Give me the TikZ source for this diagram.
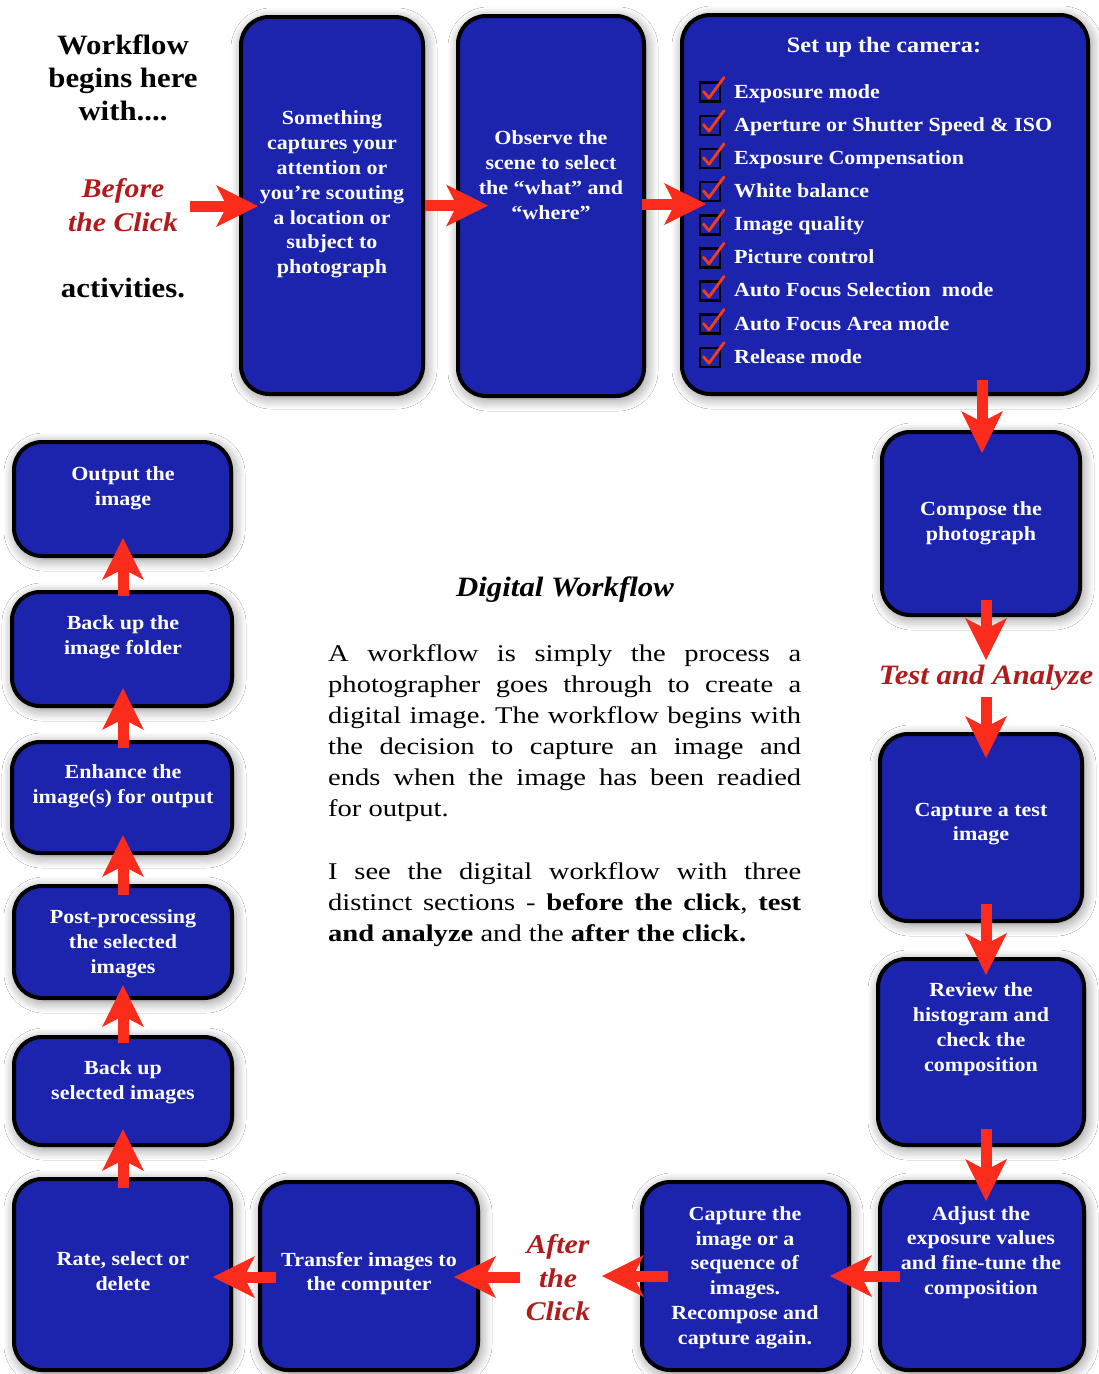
\documentclass[tikz,border=0pt]{standalone}
\usepackage{fontspec}
\setmainfont{Liberation Serif}[FakeStretch=1.1]
\newfontfamily\bodyfont{Liberation Serif}[FakeStretch=1.19]
\usetikzlibrary{arrows.meta,shadows.blur,calc}
\definecolor{boxblue}{RGB}{28,36,174}
\definecolor{arrred}{RGB}{252,44,28}
\definecolor{txtred}{RGB}{176,28,28}
\definecolor{chkred}{RGB}{245,62,20}
\tikzset{
  box/.style={draw=black, line width=4pt, fill=boxblue, rounded corners=28pt, inner sep=0pt,
    blur shadow={shadow xshift=2pt, shadow yshift=-3pt, shadow blur radius=12pt, shadow blur steps=10, shadow opacity=50}},
  btxt/.style={text=white, align=center, inner sep=0pt, font=\bfseries\fontsize{20}{24.8}\selectfont},
  itemtxt/.style={text=white, inner sep=0pt, font=\bfseries\fontsize{20}{24}\selectfont},
  bigarrow/.style={draw=arrred, line width=11pt, -{Stealth[length=42pt,width=42pt,inset=11pt,line width=0pt]}},
  chkbox/.style={draw=black, line width=2.6pt},
  chkmark/.style={draw=chkred, line width=2.8pt, line cap=round, line join=round},
  headtxt/.style={align=center, inner sep=0pt, font=\bfseries\fontsize{28}{33}\selectfont},
  redtxt/.style={align=center, inner sep=0pt, text=txtred, font=\bfseries\itshape\fontsize{27}{33.5}\selectfont}
}
\begin{document}
\frenchspacing
\begin{tikzpicture}[x=1pt,y=-1pt]
\useasboundingbox (0,0) rectangle (1099,1374);
\fill[white] (0,0) rectangle (1099,1374);

% boxes
\node[box, minimum width=182pt, minimum height=377pt] (b1) at (332,205.5) {};
\node[box, minimum width=186pt, minimum height=380pt] (b2) at (551,206) {};
\node[box, minimum width=406pt, minimum height=379pt] (b3) at (885,204.5) {};
\node[box, minimum width=198pt, minimum height=183pt] (b4) at (981,523.5) {};
\node[box, minimum width=202pt, minimum height=187pt] (b5) at (981,827.5) {};
\node[box, minimum width=206pt, minimum height=186pt] (b6) at (981,1052) {};
\node[box, minimum width=204pt, minimum height=188pt] (b7) at (982,1276) {};
\node[box, minimum width=207pt, minimum height=188pt] (b8) at (745.5,1276) {};
\node[box, minimum width=218pt, minimum height=188pt] (b9) at (369,1276) {};
\node[box, minimum width=217pt, minimum height=191pt] (b10) at (122.5,1274.5) {};
\node[box, minimum width=218pt, minimum height=108pt] (b11) at (123,1091) {};
\node[box, minimum width=218pt, minimum height=112pt] (b12) at (123,942) {};
\node[box, minimum width=220pt, minimum height=111pt] (b13) at (122,797.5) {};
\node[box, minimum width=220pt, minimum height=114pt] (b14) at (122,649) {};
\node[box, minimum width=217pt, minimum height=114pt] (b15) at (122.5,499) {};

% box texts
\node[btxt] (t1) at (332,194.5) {Something\\captures your\\attention or\\you’re scouting\\a location or\\subject to\\photograph};
\node[btxt] (t2) at (551,175) {Observe the\\scene to select\\the “what” and\\“where”};
\node[btxt, font=\bfseries\fontsize{22}{26}\selectfont] (t3) at (884,47) {Set up the camera:};
\node[btxt] (t4) at (981,523.5) {Compose the\\photograph};
\node[btxt] (t5) at (981,824) {Capture a test\\image};
\node[btxt] (t6) at (981,1029) {Review the\\histogram and\\check the\\composition};
\node[btxt] (t7) at (981,1252.5) {Adjust the\\exposure values\\and fine-tune the\\composition};
\node[btxt] (t8) at (745,1277.5) {Capture the\\image or a\\sequence of\\images.\\Recompose and\\capture again.};
\node[btxt] (t9) at (369,1273.5) {Transfer images to\\the computer};
\node[btxt] (t10) at (123,1271.5) {Rate, select or\\delete};
\node[btxt] (t11) at (123,1082.5) {Back up\\selected images};
\node[btxt] (t12) at (123,944) {Post-processing\\the selected\\images};
\node[btxt] (t13) at (123,786.5) {Enhance the\\image(s) for output};
\node[btxt] (t14) at (123,637.5) {Back up the\\image folder};
\node[btxt] (t15) at (123,488.5) {Output the\\image};

% checklist
\foreach \i/\t in {0/Exposure mode, 1/{Aperture or Shutter Speed \& ISO}, 2/Exposure Compensation, 3/White balance, 4/Image quality, 5/Picture control, 6/{Auto Focus Selection~ mode}, 7/Auto Focus Area mode, 8/Release mode}{
  \pgfmathsetmacro\yy{98+33.15*\i}
  \draw[chkbox] (700,\yy-15.3) rectangle (720,\yy+3.7);
  \draw[chkmark] (703.5,\yy-6.5) -- (709,\yy) -- (724,\yy-20.5);
  \node[itemtxt, anchor=base west] (c\i) at (734,\yy) {\t};
}

% left / free texts
\node[headtxt] (wf) at (123,78) {Workflow\\begins here\\with....};
\node[redtxt] (bc) at (123,205) {Before\\the Click};
\node[headtxt] (act) at (123,288) {activities.};
\node[redtxt, font=\bfseries\itshape\fontsize{28}{33}\selectfont] (ta) at (986,678) {Test and Analyze};
\node[redtxt] (ac) at (558,1278) {After\\the\\Click};
\node[inner sep=0pt, font=\bfseries\itshape\fontsize{28}{33}\selectfont] (dw) at (565,590) {Digital Workflow};
\node[anchor=north west, inner sep=0pt, text width=473pt, align=justify, font=\bodyfont\fontsize{24}{31}\selectfont] (para) at (328,644)
 {\parindent=0pt A workflow is simply the process a\linebreak photographer goes through to create a\linebreak digital image. The workflow begins with\linebreak the decision to capture an image and\linebreak ends when the image has been readied\linebreak for output.\par\vskip 32pt\noindent I see the digital workflow with three\linebreak distinct sections - \textbf{before the click}, \textbf{test}\linebreak \textbf{and analyze} and the \textbf{after the click.}};

% arrows
\draw[bigarrow] ([shift={(-49,0.5)}]b1.west) -- ([shift={(19,0.5)}]b1.west);
\draw[bigarrow] ([shift={(0,0)}]b1.east) -- ([shift={(32,-0.5)}]b2.west);
\draw[bigarrow] ([shift={(-4,-2)}]b2.east) -- ([shift={(26,-0.5)}]b3.west);
\draw[bigarrow] ([shift={(1,-16)}]b4.north |- b3.south) -- ([shift={(1,23)}]b4.north);
\draw[bigarrow] ([shift={(5,-17)}]b4.south) -- ([shift={(0,-18)}]ta.center);
\draw[bigarrow] ([shift={(0,19)}]ta.center) -- ([shift={(5,26)}]b5.north);
\draw[bigarrow] ([shift={(5,-19)}]b5.south) -- ([shift={(5,18)}]b6.north);
\draw[bigarrow] ([shift={(5,-18)}]b6.south) -- ([shift={(4,21)}]b7.north);
\draw[bigarrow] ([shift={(22,0)}]b7.west) -- ([shift={(-21,0)}]b8.east);
\draw[bigarrow] ([shift={(28,0)}]b8.west) -- ([shift={(44,-2)}]ac.center);
\draw[bigarrow] ([shift={(-38,-1)}]ac.center) -- ([shift={(-26,1)}]b9.east);
\draw[bigarrow] ([shift={(18,1)}]b9.west) -- ([shift={(-20,2.5)}]b10.east);
\draw[bigarrow] ([shift={(0.5,11)}]b10.north) -- ([shift={(0,-18)}]b11.south);
\draw[bigarrow] ([shift={(0,8)}]b11.north) -- ([shift={(0,-15)}]b12.south);
\draw[bigarrow] ([shift={(0,11)}]b12.north) -- ([shift={(1,-20)}]b13.south);
\draw[bigarrow] ([shift={(1,8)}]b13.north) -- ([shift={(1,-20)}]b14.south);
\draw[bigarrow] ([shift={(1,6)}]b14.north) -- ([shift={(0.5,-20)}]b15.south);
\end{tikzpicture}
\end{document}
